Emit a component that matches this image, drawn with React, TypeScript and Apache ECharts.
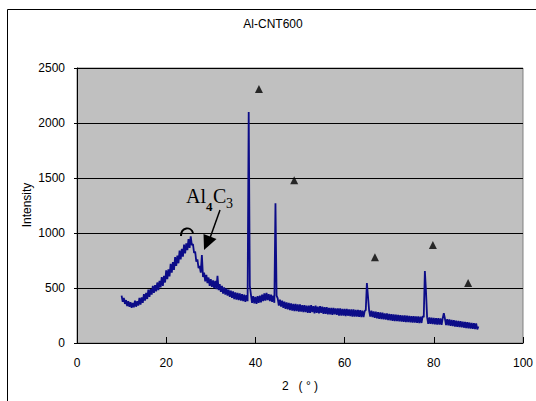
import React, { useEffect, useRef } from "react";
import * as echarts from "echarts";

// XRD scan: intensity every 0.25 degrees from 10 to 90 (2θ)
const scanStart = 10;
const scanStep = 0.25;
const intensity: number[] = [
  430, 375, 410, 355, 390, 335, 380, 330, 370, 320, 365, 325, 385, 330, 380, 340,
  410, 350, 415, 365, 445, 385, 455, 400, 485, 420, 490, 440, 520, 455, 525, 470,
  550, 480, 565, 505, 600, 520, 610, 550, 660, 580, 670, 605, 720, 640, 735, 665,
  780, 700, 795, 725, 840, 760, 855, 785, 895, 815, 905, 845, 945, 865, 970, 890,
  900, 820, 830, 740, 760, 680, 700, 640, 800, 600, 640, 560, 620, 545, 595, 520,
  580, 510, 570, 500, 565, 490, 610, 480, 535, 465, 520, 450, 505, 440, 495, 430,
  485, 420, 475, 410, 470, 400, 460, 395, 455, 390, 450, 385, 445, 380, 440, 375,
  435, 380, 2100, 520, 440, 365, 425, 360, 420, 355, 425, 365, 430, 370, 440, 380,
  450, 385, 455, 390, 445, 380, 440, 375, 430, 365, 1270, 430, 405, 340, 395, 330,
  385, 320, 375, 310, 370, 305, 365, 300, 360, 295, 355, 290, 355, 290, 350, 285,
  350, 285, 345, 280, 345, 280, 340, 275, 340, 275, 345, 280, 335, 270, 340, 275,
  330, 270, 335, 275, 330, 265, 325, 265, 325, 260, 320, 260, 320, 255, 320, 260,
  315, 255, 315, 250, 315, 250, 310, 250, 310, 245, 310, 248, 305, 245, 305, 240,
  305, 240, 300, 240, 300, 238, 298, 235, 295, 235, 290, 300, 545, 420, 295, 240,
  295, 235, 288, 228, 285, 225, 280, 220, 278, 218, 275, 215, 270, 212, 268, 208,
  265, 205, 262, 202, 260, 200, 258, 198, 256, 196, 254, 194, 252, 192, 250, 190,
  248, 190, 246, 188, 245, 186, 244, 185, 242, 184, 242, 182, 240, 182, 245, 235,
  655, 470, 235, 175, 232, 174, 230, 172, 228, 170, 226, 168, 225, 167, 223, 166,
  225, 270, 220, 162, 216, 160, 214, 156, 210, 153, 207, 150, 204, 147, 201, 144,
  198, 142, 195, 139, 192, 136, 189, 134, 186, 131, 183, 129, 180, 126, 178, 124,
  150,
];

// ▲ phase markers (2θ, height)
const markerAngles: number[] = [40.8, 48.7, 66.8, 79.8, 87.7];
const markerHeights: number[] = [2310, 1480, 780, 890, 545];

const yTicks = { min: 0, max: 2500, interval: 500 };
const xTicks = { min: 0, max: 100, interval: 20 };

const title = "Al-CNT600";
const yName = "Intensity";
const xName = "2   ( ° )";

export default function App() {
  const ref = useRef<HTMLDivElement>(null);

  useEffect(() => {
    if (!ref.current) return;
    const chart = echarts.init(ref.current, null, { renderer: "svg" });
    const lineData = intensity.map((v, i) => [scanStart + i * scanStep, v]);
    const markers = markerAngles.map((a, i) => [a, markerHeights[i]]);
    const font = "'Liberation Sans', Arial, sans-serif";
    const serif = "'Liberation Serif', 'Times New Roman', serif";

    chart.setOption({
      animation: false,
      backgroundColor: "#ffffff",
      title: {
        text: title,
        left: 268,
        top: 13,
        textAlign: "center",
        textStyle: { fontFamily: font, fontSize: 12, fontWeight: "normal", color: "#000" },
      },
      grid: {
        left: 77,
        top: 68,
        width: 446,
        height: 275,
        show: true,
        backgroundColor: "#C0C0C0",
        borderColor: "#808080",
        borderWidth: 1,
      },
      xAxis: {
        type: "value",
        min: xTicks.min,
        max: xTicks.max,
        interval: xTicks.interval,
        name: xName,
        nameLocation: "middle",
        nameGap: 37,
        nameTextStyle: { fontFamily: font, fontSize: 12, color: "#000" },
        axisLine: { show: true, onZero: false, lineStyle: { color: "#000", width: 1 } },
        axisTick: { show: true, inside: true, length: 6, lineStyle: { color: "#000" } },
        axisLabel: { fontFamily: font, fontSize: 12, color: "#000", margin: 14 },
        splitLine: { show: false },
      },
      yAxis: {
        type: "value",
        min: yTicks.min,
        max: yTicks.max,
        interval: yTicks.interval,
        axisLine: { show: true, lineStyle: { color: "#000", width: 1 } },
        axisTick: { show: true, inside: false, length: 3, lineStyle: { color: "#000" } },
        axisLabel: {
          fontFamily: font,
          fontSize: 12,
          color: "#000",
          margin: 12,
          formatter: (v: number) => String(v),
        },
        splitLine: { show: true, lineStyle: { color: "#000", width: 1 } },
      },
      series: [
        {
          type: "line",
          data: lineData,
          showSymbol: false,
          symbol: "none",
          lineStyle: { color: "#0C0C88", width: 1.8 },
          z: 2,
        },
        {
          type: "scatter",
          data: markers,
          symbol: "triangle",
          symbolSize: [8, 8],
          itemStyle: { color: "#000" },
          z: 3,
        },
      ],
      graphic: [
        {
          type: "rect",
          shape: { x: 7.5, y: 9.5, width: 560, height: 420 },
          style: { fill: "none", stroke: "#000", lineWidth: 1 },
          silent: true,
          z: 0,
        },
        {
          type: "text",
          x: 27,
          y: 205,
          rotation: Math.PI / 2,
          style: {
            text: yName,
            fontFamily: font,
            fontSize: 12,
            fill: "#000",
            align: "center",
            verticalAlign: "middle",
          },
          z: 10,
        },
        {
          type: "text",
          x: 186,
          y: 206,
          style: { text: "Al", fontFamily: serif, fontSize: 20, fill: "#000", verticalAlign: "bottom" },
          z: 10,
        },
        {
          type: "text",
          x: 206,
          y: 213,
          style: { text: "4", fontFamily: serif, fontSize: 13, fontWeight: "bold", fill: "#000", verticalAlign: "bottom" },
          z: 10,
        },
        {
          type: "text",
          x: 213,
          y: 206,
          style: { text: "C", fontFamily: serif, fontSize: 20, fill: "#000", verticalAlign: "bottom" },
          z: 10,
        },
        {
          type: "text",
          x: 226,
          y: 210,
          style: { text: "3", fontFamily: serif, fontSize: 14, fill: "#000", verticalAlign: "bottom" },
          z: 10,
        },
        {
          type: "line",
          shape: { x1: 220, y1: 210, x2: 210, y2: 238 },
          style: { stroke: "#000", lineWidth: 1.5 },
          z: 10,
        },
        {
          type: "polygon",
          shape: { points: [[204, 250], [203.5, 234], [216.5, 239]] },
          style: { fill: "#000" },
          z: 10,
        },
        {
          type: "bezierCurve",
          shape: { x1: 181, y1: 236, cpx1: 181, cpy1: 227, cpx2: 191, cpy2: 226, x2: 193, y2: 233 },
          style: { stroke: "#000", lineWidth: 2, fill: "none" },
          z: 10,
        },
      ],
    });
    return () => chart.dispose();
  }, []);

  return (
    <div
      ref={ref}
      style={{ position: "fixed", left: 0, top: 0, width: 536, height: 401, background: "#fff" }}
    />
  );
}
